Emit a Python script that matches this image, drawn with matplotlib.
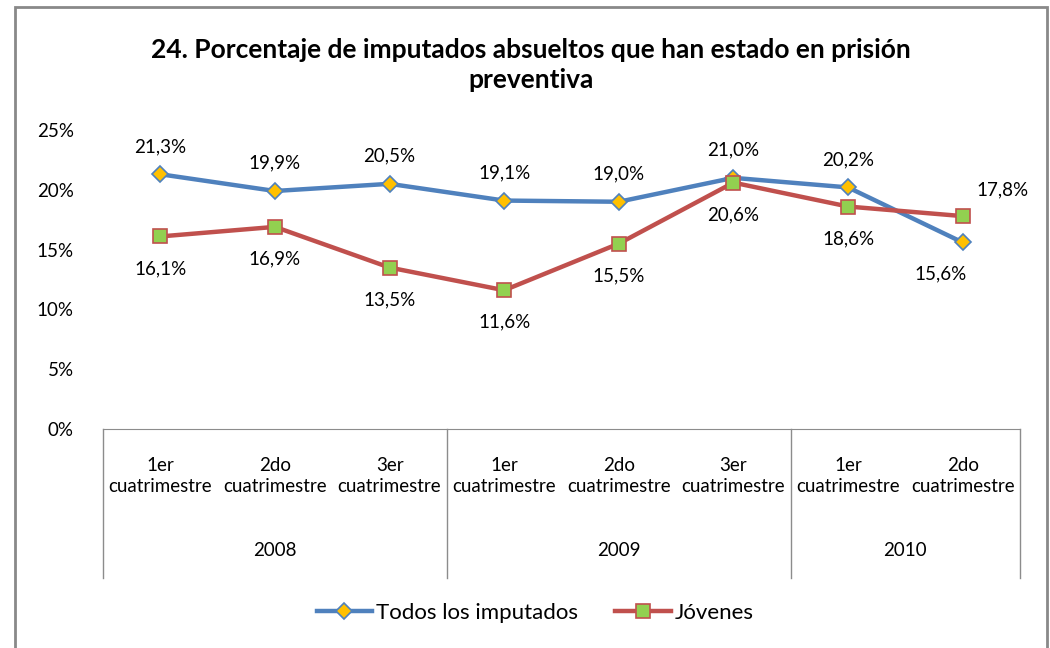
import matplotlib
matplotlib.use("Agg")
import matplotlib.pyplot as plt
from matplotlib.patches import Rectangle
from matplotlib.lines import Line2D
import matplotlib.transforms as mtransforms

plt.rcParams["font.family"] = ["Lato", "DejaVu Sans"]

quarters = ["1er\ncuatrimestre", "2do\ncuatrimestre", "3er\ncuatrimestre",
            "1er\ncuatrimestre", "2do\ncuatrimestre", "3er\ncuatrimestre",
            "1er\ncuatrimestre", "2do\ncuatrimestre"]
years = ["2008", "2009", "2010"]
year_spans = [(0, 3), (3, 6), (6, 8)]
todos = [21.3, 19.9, 20.5, 19.1, 19.0, 21.0, 20.2, 15.6]
jovenes = [16.1, 16.9, 13.5, 11.6, 15.5, 20.6, 18.6, 17.8]

BLUE = "#4F81BD"
RED = "#C0504D"
GRAY = "#8C8C8C"
FS = 13.5

fig = plt.figure(figsize=(10.5, 6.48), dpi=100)
W, H = 1050, 648
ax = fig.add_axes([103 / W, 1 - 429 / H, (1020 - 103) / W, (429 - 130) / H])

x = list(range(len(todos)))
ax.plot(x, todos, color=BLUE, lw=3.2, marker="D", ms=8, mfc="#FFC000", mec=BLUE, mew=1.2,
        label="Todos los imputados", zorder=3)
ax.plot(x, jovenes, color=RED, lw=3.2, marker="s", ms=10, mfc="#92D050", mec=RED, mew=1.2,
        label="Jóvenes", zorder=3)

ax.set_xlim(-0.5, len(x) - 0.5)
ax.set_ylim(0, 25)
ax.set_yticks([0, 5, 10, 15, 20, 25])
ax.set_yticklabels([f"{v}%" for v in [0, 5, 10, 15, 20, 25]], fontsize=FS)
ax.tick_params(axis="y", length=0, pad=21)
ax.set_xticks([])
for s in ["top", "right", "left"]:
    ax.spines[s].set_visible(False)
ax.spines["bottom"].set_color(GRAY)

# data labels (offsets in points, centred)
def fmt(v):
    return f"{v:.1f}%".replace(".", ",")

for i, v in enumerate(todos):
    dx, dy = 0, 20
    if i == 7:
        dx, dy = -16, -23
    ax.annotate(fmt(v), (i, v), xytext=(dx, dy), textcoords="offset points",
                ha="center", va="center", fontsize=FS)
for i, v in enumerate(jovenes):
    dx, dy = 0, -23
    if i == 7:
        dx, dy = 29, 19
    ax.annotate(fmt(v), (i, v), xytext=(dx, dy), textcoords="offset points",
                ha="center", va="center", fontsize=FS)

# category axis table
trans = mtransforms.blended_transform_factory(ax.transData, fig.transFigure)
y_top = 1 - 429 / H
y_bot = 1 - 578 / H
for b in [-0.5, 2.5, 5.5, 7.5]:
    ax.add_line(Line2D([b, b], [y_top, y_bot], transform=trans, color=GRAY, lw=1, clip_on=False))
for i, q in enumerate(quarters):
    ax.text(i, 1 - 476 / H, q, transform=trans, ha="center", va="center", fontsize=FS,
            linespacing=1.35)
for (a, b), yr in zip(year_spans, years):
    ax.text((a + b - 1) / 2, 1 - 550 / H, yr, transform=trans, ha="center", va="center", fontsize=FS)

fig.text(531 / W, 1 - 65 / H, "24. Porcentaje de imputados absueltos que han estado en prisión\npreventiva",
         ha="center", va="center", fontsize=19, fontweight="bold", linespacing=1.3)

fig.legend(loc="center", bbox_to_anchor=(535 / W, 1 - 613 / H), ncol=2, frameon=False,
           fontsize=16, handlelength=2.5, columnspacing=1.7, handletextpad=0.15)

fig.add_artist(Rectangle((15 / W, -0.05), (1047 - 15) / W, 1.05 - 7 / H, transform=fig.transFigure,
                         fill=False, ec="#898989", lw=2))

fig.savefig("out.png", dpi=100)
